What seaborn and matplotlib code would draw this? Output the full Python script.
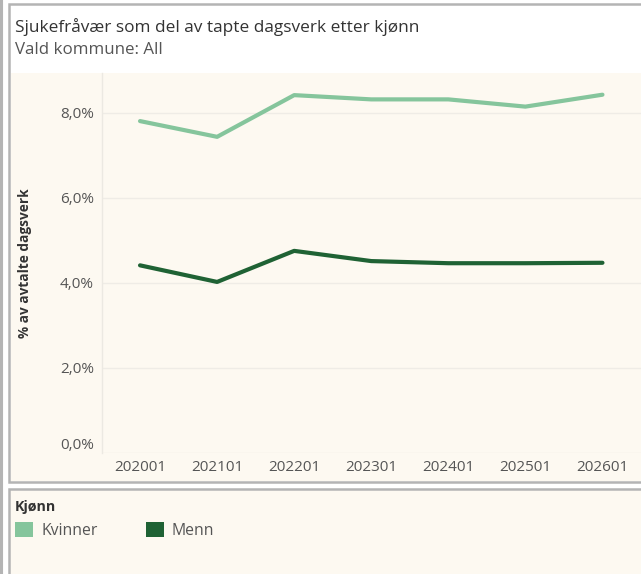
import matplotlib
matplotlib.use("Agg")
import matplotlib.pyplot as plt
import matplotlib.patches as mpatches
from matplotlib.ticker import FuncFormatter, FixedLocator
import seaborn as sns
import pandas as pd

periods = ["202001", "202101", "202201", "202301", "202401", "202501", "202601"]
kvinner = [7.80, 7.43, 8.41, 8.31, 8.31, 8.14, 8.42]
menn = [4.41, 4.02, 4.75, 4.51, 4.46, 4.46, 4.47]
series_names = ["Kvinner", "Menn"]
colors = ["#85c59c", "#1f6234"]
y_ticks = [0, 2, 4, 6, 8]

title = "Sjukefråvær som del av tapte dagsverk etter kjønn"
subtitle = "Vald kommune: All"
y_label = "% av avtalte dagsverk"
legend_title = "Kjønn"

df = pd.DataFrame({
    "Periode": periods * 2,
    "Verdi": kvinner + menn,
    "Kjønn": [series_names[0]] * len(periods) + [series_names[1]] * len(periods),
})

sns.set_theme(style="white")
plt.rcParams["font.family"] = ["Open Sans", "DejaVu Sans"]

W, H = 641, 574
fig = plt.figure(figsize=(W / 100, H / 100), dpi=100, facecolor="white")

def fx(px):
    return px / W

def fy(py):
    return 1 - py / H

cream = "#fdf9f1"
border = "#b4b4b4"

# panel frames (behind the axes)
fig.patches.append(mpatches.Rectangle((fx(0.5), 0), fx(1.5), 1, transform=fig.transFigure,
                                      facecolor="none", edgecolor=border, lw=1.5, zorder=-2))
fig.patches.append(mpatches.Rectangle((fx(9), fy(482)), fx(640), fy(4) - fy(482), transform=fig.transFigure,
                                      facecolor="white", edgecolor=border, lw=1.8, zorder=-2))
fig.patches.append(mpatches.Rectangle((fx(11), fy(481)), fx(640), fy(73) - fy(481), transform=fig.transFigure,
                                      facecolor=cream, edgecolor="none", zorder=-1))
fig.patches.append(mpatches.Rectangle((fx(9), fy(576)), fx(640), fy(489) - fy(576), transform=fig.transFigure,
                                      facecolor=cream, edgecolor=border, lw=1.8, zorder=-2))

ax = fig.add_axes([fx(101.5), fy(453), fx(641) - fx(101.5), fy(73) - fy(453)])
ax.set_facecolor(cream)
ax.patch.set_alpha(0)

sns.lineplot(data=df, x="Periode", y="Verdi", hue="Kjønn", palette=colors,
             hue_order=series_names, sort=False, linewidth=3.0, ax=ax, legend=False)

ax.set_xlim(-0.5, 6.406)
ax.set_ylim(0, 8.93)
ax.yaxis.set_major_locator(FixedLocator(y_ticks))
ax.yaxis.set_major_formatter(FuncFormatter(lambda v, p: f"{v:.1f}%".replace(".", ",")))
ax.grid(axis="y", color="#efece6", lw=1.0)
ax.set_axisbelow(True)
for s in ["top", "right", "bottom"]:
    ax.spines[s].set_visible(False)
ax.spines["left"].set_color("#ece9e2")
ax.spines["left"].set_linewidth(1.0)

ax.set_xlabel("")
ax.set_ylabel(y_label, fontsize=9.8, fontweight="bold", color="#333333")
ax.yaxis.set_label_coords((32 - 101.5) / (641 - 101.5), 0.5)
ax.tick_params(axis="y", length=0, labelsize=11, labelcolor="#555555", pad=5.5)
ax.tick_params(axis="x", length=0, labelsize=11, labelcolor="#555555", pad=5)
ylabels = ax.get_yticklabels()
ylabels[0].set_verticalalignment("bottom")
ax.set_xticks(range(len(periods)))
ax.set_xticklabels(periods)
# faint band separators below axis
ax.set_xticks([i - 0.5 for i in range(len(periods) + 1)], minor=True)
ax.tick_params(axis="x", which="minor", length=6, color="#ece9e2", width=1)

fig.text(fx(15), fy(27), title, fontsize=12.4, color="#333333", va="center", ha="left")
fig.text(fx(15), fy(50), subtitle, fontsize=12.2, color="#555555", va="center", ha="left")

handles = [mpatches.Patch(facecolor=c, edgecolor="none") for c in colors]
leg = fig.legend(handles, series_names, title=legend_title, loc="upper left",
                 bbox_to_anchor=(fx(12), fy(497)), ncol=2, frameon=False,
                 handlelength=1.15, handleheight=1.1, handletextpad=0.5,
                 columnspacing=3.1, fontsize=11.3, title_fontsize=10.3,
                 labelcolor="#555555", borderaxespad=0, borderpad=0.2)
leg._legend_box.align = "left"
leg.get_title().set_fontweight("bold")
leg.get_title().set_color("#333333")

fig.savefig("out.png", dpi=100, facecolor="white")
